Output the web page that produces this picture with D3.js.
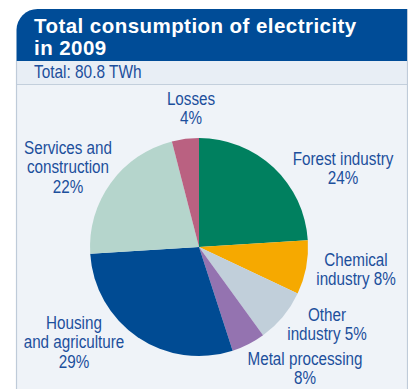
<!DOCTYPE html>
<html>
<head>
<meta charset="utf-8">
<script src="https://cdn.jsdelivr.net/npm/d3@7"></script>
<style>
  html, body { margin: 0; padding: 0; background: #ffffff; }
  svg { display: block; }
</style>
</head>
<body>
<svg id="chart" width="408" height="389"></svg>
<script>
// Electricity consumption shares, clockwise from 12 o'clock
const sectors = ["Forest industry", "Chemical industry", "Metal processing", "Other industry",
                 "Housing and agriculture", "Services and construction", "Losses"];
const shares = [24, 8, 8, 5, 29, 22, 4];
const sectorColors = ["#00805f", "#f6a900", "#c1cfda", "#9473b0", "#004b93", "#b5d5cc", "#ba6181"];

const titleLines = ["Total consumption of electricity", "in 2009"];
const subtitle = "Total: 80.8 TWh";

// Label text blocks (one entry per sector, lines stacked)
const labelLines = [
  ["Forest industry", "24%"],
  ["Chemical", "industry 8%"],
  ["Metal processing", "8%"],
  ["Other", "industry 5%"],
  ["Housing", "and agriculture", "29%"],
  ["Services and", "construction", "22%"],
  ["Losses", "4%"]
];
const labelAnchors = [
  [343, 165], [356, 266], [305, 365], [327, 321], [74, 329], [68, 154], [191, 105]
];

const svg = d3.select("#chart");
const H = 389;
const panelLeft = 16.5, panelRight = 407.5, panelTop = 9, headBottom = 61, subBottom = 84, cornerR = 21;
const textFont = "'Liberation Sans', Arial, sans-serif";

// Panel background
svg.append("rect").attr("x", panelLeft).attr("y", subBottom).attr("width", panelRight - panelLeft).attr("height", H - subBottom)
  .attr("fill", "#eff3f8");
// Subtitle band
svg.append("rect").attr("x", panelLeft).attr("y", headBottom).attr("width", panelRight - panelLeft).attr("height", subBottom - headBottom)
  .attr("fill", "#e8eef5");
svg.append("line").attr("x1", panelLeft).attr("x2", panelRight).attr("y1", subBottom + 0.5).attr("y2", subBottom + 0.5)
  .attr("stroke", "#c3cfdc").attr("stroke-width", 1.2);
// Panel border lines
svg.append("line").attr("x1", panelLeft).attr("x2", panelLeft).attr("y1", headBottom).attr("y2", H)
  .attr("stroke", "#bfcbd9").attr("stroke-width", 1.2);
svg.append("line").attr("x1", panelRight).attr("x2", panelRight).attr("y1", panelTop).attr("y2", H)
  .attr("stroke", "#bfcbd9").attr("stroke-width", 1.2);

// Header with rounded top-left corner
const hp = d3.path();
hp.moveTo(panelLeft, headBottom);
hp.lineTo(panelLeft, panelTop + cornerR);
hp.arcTo(panelLeft, panelTop, panelLeft + cornerR, panelTop, cornerR);
hp.lineTo(panelRight - 0.5, panelTop);
hp.lineTo(panelRight - 0.5, headBottom);
hp.closePath();
svg.append("path").attr("d", hp.toString()).attr("fill", "#004c97");

svg.selectAll("text.title").data(titleLines).join("text")
  .attr("class", "title")
  .attr("x", 34).attr("y", (d, i) => 33 + i * 22)
  .attr("fill", "#ffffff")
  .attr("font-family", textFont)
  .attr("font-weight", "bold").attr("font-size", 20.5)
  .attr("letter-spacing", 0.45)
  .text(d => d);

svg.append("text")
  .attr("transform", "translate(34,77.5) scale(0.88,1)")
  .attr("fill", "#1c4f9c")
  .attr("font-family", textFont)
  .attr("font-size", 17.5)
  .text(subtitle);

// Pie
const cx = 199, cy = 247, radius = 109;
const pie = d3.pie().sort(null).value(d => d.value);
const arc = d3.arc().innerRadius(0).outerRadius(radius);
const data = sectors.map((s, i) => ({ name: s, value: shares[i], color: sectorColors[i] }));

const g = svg.append("g").attr("transform", `translate(${cx},${cy})`);
g.selectAll("path").data(pie(data)).join("path")
  .attr("d", arc)
  .attr("fill", d => d.data.color);

// Labels
const lineH = 19.5;
labelLines.forEach((lines, i) => {
  const [x, y] = labelAnchors[i];
  const t = svg.append("g").attr("transform", `translate(${x},${y}) scale(0.87,1)`);
  t.selectAll("text").data(lines).join("text")
    .attr("x", 0).attr("y", (d, j) => j * lineH)
    .attr("text-anchor", "middle")
    .attr("fill", "#1c4f9c")
    .attr("font-family", textFont)
    .attr("font-size", 17.5)
    .text(d => d);
});
</script>
</body>
</html>
